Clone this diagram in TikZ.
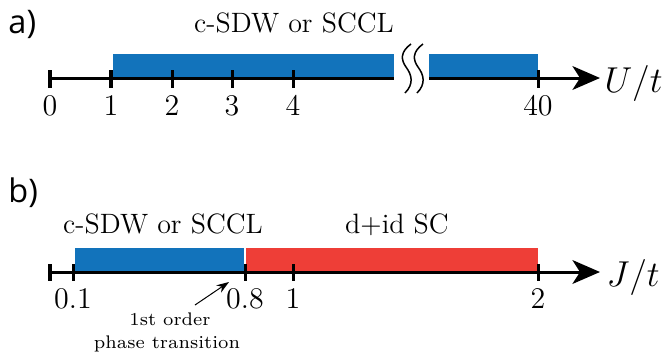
\documentclass[tikz,border=0pt]{standalone}
\usepackage{fontspec}
\newfontfamily\panelfont{Open Sans}
\usetikzlibrary{arrows.meta,positioning}
\definecolor{sdwblue}{RGB}{18,115,187}
\definecolor{scred}{RGB}{238,62,55}
\tikzset{font=\fontsize{11.2}{13}\selectfont}
\tikzstyle{axis}=[line width=1.2pt,-{Stealth[length=11pt,width=9.5pt,inset=3pt]}]
\tikzstyle{tick}=[line width=1.2pt]
\tikzstyle{ticklab}=[anchor=base,inner sep=0pt,font=\fontsize{11.5}{13}\selectfont]
\tikzstyle{panel}=[anchor=base west,inner sep=0pt,font=\panelfont\fontsize{13}{15}\selectfont]
\tikzstyle{phase}=[anchor=base,inner sep=0pt]
\tikzstyle{varlab}=[anchor=base west,inner sep=0pt,font=\fontsize{15.5}{18}\selectfont]
\tikzstyle{squiggle}=[line width=0.6pt]

\begin{document}
\begin{tikzpicture}[x=0.4pt,y=-0.4pt]
\useasboundingbox (0,0) rectangle (662,354);
% a)
\node[panel] (a) at (8,33) {a)};
\fill[sdwblue] (113,54) rectangle (394,78);
\fill[sdwblue] (429,54) rectangle (538,78);
\coordinate (a0) at (50,78);
\coordinate (abreak) at (394,78);
\coordinate (aresume) at (429,78);
\coordinate (aend) at (600,78);
\draw[line width=1.2pt] (a0) -- (abreak);
\draw[axis] (aresume) -- (aend);
\foreach \x/\lab [count=\i] in {50/0,111/1,172/2,232/3,293/4,538/40}{
  \draw[tick] (\x,70) -- (\x,88);
  \node[ticklab] (ta-\i) at (\x,115) {$\lab$};
}
\draw[squiggle] (411,44) .. controls (400,52) and (401,60) .. (406,67)
  .. controls (412,75) and (414,84) .. (405,93);
\draw[squiggle] (423,44) .. controls (412,52) and (413,60) .. (418,67)
  .. controls (424,75) and (426,84) .. (417,93);
\node[phase] (sdwa) at (294,32) {c-SDW or SCCL};
\node[varlab] (ua) at (604,92) {$U/t$};

% b)
\node[panel] (b) at (8,202) {b)};
\fill[sdwblue] (75,248) rectangle (244,272);
\fill[scred] (246,248) rectangle (538,272);
\coordinate (b0) at (50,272);
\coordinate (bend) at (600,272);
\draw[axis] (b0) -- (bend);
\foreach \x/\lab [count=\i] in {50/,73/0.1,245/0.8,293/1,538/2}{
  \draw[tick] (\x,264) -- (\x,281);
  \node[ticklab] (tb-\i) at (\x,308) {$\lab$};
}
\node[phase] (sdwb) at (163,233) {c-SDW or SCCL};
\node[phase] (dsc) at (397,233) {d$+$id SC};
\node[varlab] (jb) at (606,286) {$J/t$};
\coordinate (trans) at (229,282);
\coordinate (transfoot) at (195,305);
\draw[line width=0.4pt,-{Stealth[length=5pt,width=3.5pt]}] (transfoot) -- (trans);
\node[phase,font=\fontsize{7.3}{8.6}\selectfont] (first) at (170,325) {1st order};
\node[phase,font=\fontsize{7.3}{8.6}\selectfont] (ptrans) at (167,348) {phase transition};
\end{tikzpicture}
\end{document}
